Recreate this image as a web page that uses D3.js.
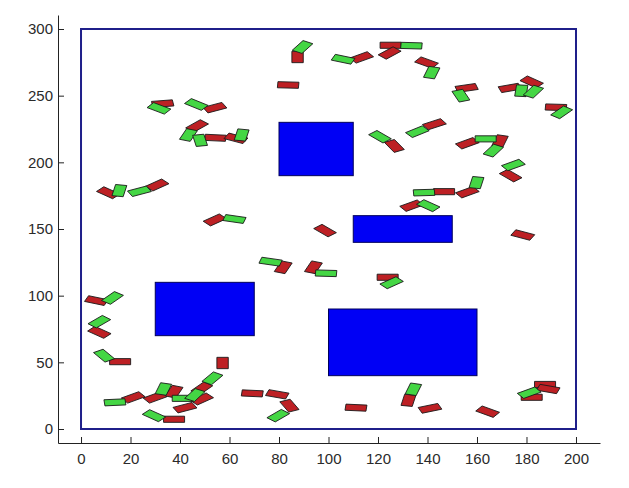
<!DOCTYPE html>
<html>
<head>
<meta charset="utf-8">
<script src="https://cdn.jsdelivr.net/npm/d3@7"></script>
<style>
  html, body { margin: 0; padding: 0; background: #fff; }
  svg { display: block; }
</style>
</head>
<body>
<svg id="chart"></svg>
<script>
// workspace limits
const xTicks = [0, 20, 40, 60, 80, 100, 120, 140, 160, 180, 200];
const yTicks = [0, 50, 100, 150, 200, 250, 300];
const field = [0, 0, 200, 300]; // x0, y0, x1, y1

// obstacles: [x0, y0, x1, y1]
const obstacles = [
  [80, 190, 110, 230],
  [110, 140, 150, 160],
  [30, 70, 70, 110],
  [100, 40, 160, 90]
];

// vehicle bodies: [x, y, heading deg]
const redCars = [
  [87.5, 279, 90], [83.7, 258, -3], [33, 244, 8], [54.1, 241, 26],
  [46.9, 227.3, 46], [54.3, 218.4, -5], [62.6, 218, -26], [11, 177.2, -40],
  [30.8, 183, 40], [54.1, 156.8, 40], [113.4, 278.7, 34], [125.1, 287.8, 0],
  [124.7, 282, 45], [139.6, 274.8, -34], [155.8, 255.8, 15], [173.3, 255.8, 18],
  [182.1, 260.3, -40], [191.9, 241.3, -3], [126.6, 212.3, -62], [142.8, 228.6, 31],
  [156.1, 214.3, 34], [169.3, 216, 75], [173.6, 190, -47], [156.1, 177.6, 34],
  [146.7, 178, 0], [133.6, 167.5, 34], [98.6, 148.8, -47], [178.5, 145.5, -26],
  [81.7, 121.3, 70], [93.9, 121.3, 70], [123.9, 113.8, 0], [6.2, 96.3, -21],
  [7.4, 72.5, -40], [15.8, 50.5, 0], [57.2, 49.5, 90], [48.8, 30.5, 52],
  [37.6, 28, 70], [29.9, 23.7, 34], [21.1, 23.7, 34], [48.8, 22.5, 40],
  [42, 16, 26], [37.6, 7.3, 0], [69.2, 26.7, -5], [79.3, 26, -18],
  [84.2, 17.5, 115], [132.3, 21.5, 80], [111.1, 16, -5], [141, 15.5, 21],
  [164.3, 13, -34], [182.1, 23.8, 0], [187.5, 33.4, 0], [188.8, 30, -18]
];
const greenCars = [
  [89.5, 286.5, 59], [31.5, 240.5, -35], [46.6, 243.4, -37], [43.4, 220.5, 70],
  [48.1, 216.5, 100], [64.9, 220.5, 80], [15.5, 178.8, 80], [23.6, 178.3, 26],
  [62, 157.5, -15], [105.9, 277.3, -21], [133.5, 287.5, -3], [141.7, 267.3, 75],
  [153.5, 250, 110], [177.9, 253.7, 85], [182.8, 253, 60], [194.2, 237.5, 52],
  [120.8, 219.2, -47], [135.9, 223, 37], [163.5, 217.6, 0], [166.6, 208.8, 60],
  [174.7, 198, 34], [159.8, 184.8, 80], [138.6, 177.3, 3], [140.3, 167.5, -40],
  [76.6, 125.5, -15], [99, 116.8, -3], [125.5, 109.7, 40], [12.7, 98.3, 52],
  [7.4, 80.5, 47], [9.3, 55, -57], [53.1, 38, 57], [33.3, 30, 75],
  [13.7, 20, 5], [41.1, 23, 0], [46, 25.5, 60], [29.5, 10, -40],
  [79.7, 10, 47], [134.3, 29.8, 75], [181.1, 27.2, 34]
];

const carLen = 8.5, carWid = 4.6;
const width = 629, height = 488;

const svg = d3.select("#chart").attr("width", width).attr("height", height);

const x = d3.scaleLinear().domain([-9.3, 209.7]).range([58, 600]);
const y = d3.scaleLinear().domain([-10.5, 310.5]).range([443, 15]);

const labelStyle = g => g.selectAll("text")
  .attr("font-family", "Liberation Sans, Arial, sans-serif")
  .attr("font-size", 15)
  .attr("fill", "#2a2a2a");

// axes, matlab style ticks pointing inward
svg.append("g")
  .attr("transform", `translate(0,${y(-10.5)})`)
  .call(d3.axisBottom(x).tickValues(xTicks).tickSize(-6).tickPadding(10).tickSizeOuter(0))
  .call(labelStyle);

svg.append("g")
  .attr("transform", `translate(${x(-9.3)},0)`)
  .call(d3.axisLeft(y).tickValues(yTicks).tickSize(-6).tickPadding(5).tickSizeOuter(0))
  .call(labelStyle);

svg.selectAll(".domain").attr("stroke", "#222");
svg.selectAll(".tick line").attr("stroke", "#222");

// field border
svg.append("rect")
  .attr("x", x(field[0]))
  .attr("y", y(field[3]))
  .attr("width", x(field[2]) - x(field[0]))
  .attr("height", y(field[1]) - y(field[3]))
  .attr("fill", "none")
  .attr("stroke", "#1f1f8a")
  .attr("stroke-width", 2);

// obstacles
svg.selectAll("rect.obs")
  .data(obstacles)
  .enter()
  .append("rect")
  .attr("class", "obs")
  .attr("x", d => x(d[0]))
  .attr("y", d => y(d[3]))
  .attr("width", d => x(d[2]) - x(d[0]))
  .attr("height", d => y(d[1]) - y(d[3]))
  .attr("fill", "#0000f5")
  .attr("stroke", "#00005a")
  .attr("stroke-width", 1);

// rectangle in data units, then through the scales
function carPath(d) {
  const a = d[2] * Math.PI / 180;
  const ux = Math.cos(a), uy = Math.sin(a);
  const vx = -uy, vy = ux;
  const hl = carLen / 2, hw = carWid / 2;
  const pts = [[hl, hw], [hl, -hw], [-hl, -hw], [-hl, hw]].map(([p, q]) =>
    [x(d[0] + p * ux + q * vx), y(d[1] + p * uy + q * vy)]);
  return d3.line()(pts) + "Z";
}

svg.selectAll("path.red")
  .data(redCars)
  .enter()
  .append("path")
  .attr("class", "red")
  .attr("d", carPath)
  .attr("fill", "#bd2024")
  .attr("stroke", "#1a1a1a")
  .attr("stroke-width", 0.9);

svg.selectAll("path.green")
  .data(greenCars)
  .enter()
  .append("path")
  .attr("class", "green")
  .attr("d", carPath)
  .attr("fill", "#44d644")
  .attr("stroke", "#1a1a1a")
  .attr("stroke-width", 0.9);
</script>
</body>
</html>
